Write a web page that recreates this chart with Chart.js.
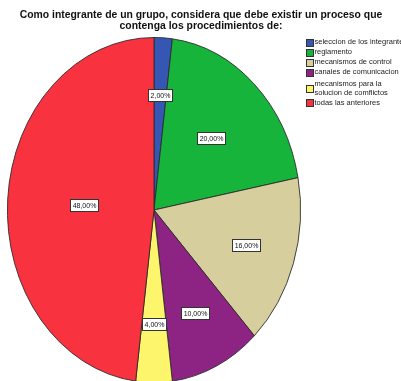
<!DOCTYPE html>
<html>
<head>
<meta charset="utf-8">
<script src="https://cdn.jsdelivr.net/npm/chart.js@4/dist/chart.umd.min.js"></script>
<style>
  html, body { margin: 0; padding: 0; background: #fff; }
  #wrap { width: 401px; height: 381px; position: relative; }
</style>
</head>
<body>
<div id="wrap"><canvas id="c" width="401" height="381"></canvas></div>
<script>
// Survey answers, in percent
const categories = [
  ['seleccion de los integrantes'],
  ['reglamento'],
  ['mecanismos de control'],
  ['canales de comunicacion'],
  ['mecanismos para la', 'solucion de comflictos'],
  ['todas las anteriores']
];
const percentages = [2, 20, 16, 10, 4, 48];
const sliceColors = ['#3557b3', '#17b43c', '#d6cf9d', '#8d2483', '#fdf56c', '#f8323e'];
const titleLines = [
  'Como integrante de un grupo, considera que debe existir un proceso que',
  'contenga los procedimientos de:'
];

// Styling of the drawing
const verticalStretch = 173 / 147;           // the pie is drawn as a tall ellipse
const labelRadius = [0.67, 0.57, 0.66, 0.66, 0.66, 0.48];

const fmt = v => v.toFixed(2).replace('.', ',') + '%';

const ellipsePlugin = {
  id: 'ellipse',
  beforeDatasetsDraw(chart) {
    const arc = chart.getDatasetMeta(0).data[0];
    const ctx = chart.ctx;
    ctx.save();
    ctx.translate(arc.x, arc.y);
    ctx.scale(1, verticalStretch);
    ctx.translate(-arc.x, -arc.y);
  },
  afterDatasetsDraw(chart) {
    chart.ctx.restore();
  }
};

const decorPlugin = {
  id: 'decor',
  afterDraw(chart) {
    const ctx = chart.ctx;
    const meta = chart.getDatasetMeta(0);

    // value boxes
    ctx.save();
    ctx.font = '7px "Liberation Sans", Arial, sans-serif';
    ctx.textAlign = 'center';
    ctx.textBaseline = 'middle';
    meta.data.forEach((a, i) => {
      const mid = (a.startAngle + a.endAngle) / 2;
      const r = a.outerRadius * labelRadius[i];
      const x = a.x + Math.cos(mid) * r;
      const y = a.y + Math.sin(mid) * r * verticalStretch;
      const txt = fmt(percentages[i]);
      const w = Math.round(ctx.measureText(txt).width) + 4;
      const h = 12;
      const bx = Math.round(x - w / 2) + 0.5, by = Math.round(y - h / 2) + 0.5;
      ctx.fillStyle = '#fff';
      ctx.fillRect(bx, by, w, h);
      ctx.strokeStyle = '#333';
      ctx.lineWidth = 1;
      ctx.strokeRect(bx, by, w, h);
      ctx.fillStyle = '#111';
      ctx.fillText(txt, bx + w / 2, by + h / 2 + 0.5);
    });
    ctx.restore();

    // title
    ctx.save();
    ctx.font = 'bold 10.4px "Liberation Sans", Arial, sans-serif';
    ctx.fillStyle = '#111';
    ctx.textAlign = 'center';
    ctx.textBaseline = 'middle';
    titleLines.forEach((t, i) => ctx.fillText(t, 201, 15.5 + i * 10.5));
    ctx.restore();

    // legend
    ctx.save();
    ctx.font = '7.5px "Liberation Sans", Arial, sans-serif';
    ctx.textBaseline = 'middle';
    let y = 42;
    categories.forEach((lines, i) => {
      const multi = lines.length > 1;
      if (multi) y += 2;
      const extra = (lines.length - 1) * 8.5;
      const sy = y + extra / 2;
      ctx.fillStyle = sliceColors[i];
      ctx.fillRect(306.5, Math.round(sy - 3.5) + 0.5, 7, 7);
      ctx.strokeStyle = '#333';
      ctx.lineWidth = 1;
      ctx.strokeRect(306.5, Math.round(sy - 3.5) + 0.5, 7, 7);
      ctx.fillStyle = '#222';
      lines.forEach((t, k) => ctx.fillText(t, 314.5, y + k * 8.5));
      y += 10 + extra;
    });
    ctx.restore();
  }
};

new Chart(document.getElementById('c'), {
  type: 'pie',
  data: {
    labels: categories.map(l => l.join(' ')),
    datasets: [{
      data: percentages,
      backgroundColor: sliceColors,
      borderColor: '#2a2a2a',
      borderWidth: 0.8
    }]
  },
  options: {
    responsive: false,
    animation: false,
    layout: { padding: { left: 7, right: 100, top: 63, bottom: 24 } },
    plugins: {
      legend: { display: false },
      title: { display: false },
      tooltip: { enabled: false }
    }
  },
  plugins: [ellipsePlugin, decorPlugin]
});
</script>
</body>
</html>
